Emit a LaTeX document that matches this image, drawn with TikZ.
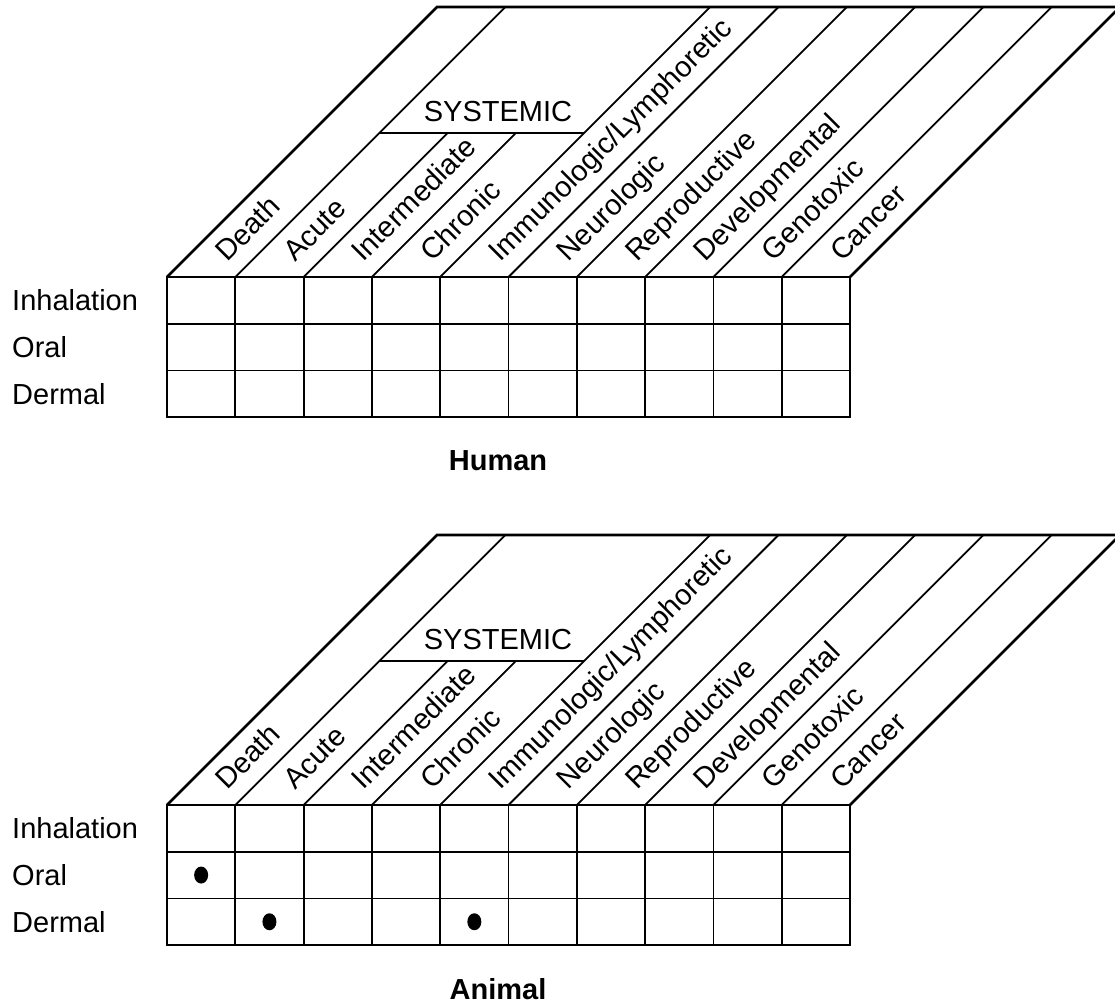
\documentclass[tikz,border=0pt]{standalone}
\usepackage{fontspec}
\setmainfont{Liberation Sans}
\usepackage{tikz}
\usetikzlibrary{shapes.geometric}

\begin{document}
\begin{tikzpicture}[x=1pt, y=-1pt,
    inner rule/.style={line width=1.8pt},
    outer rule/.style={line width=2.6pt, line join=miter},
    txt/.style={font=\fontsize{29}{34}\selectfont, inner sep=0pt},
    hit/.style={ellipse, fill=black, minimum width=14pt, minimum height=17pt, inner sep=0pt}]
    \useasboundingbox (0,0) rectangle (1115,1008);
    \clip (0,0) rectangle (1115,1008);

    \foreach \T/\name [count=\p] in {277/Human, 805/Animal} {
      % slanted header: left edge, top, right edge
      \draw[outer rule] (167,\T) -- ++(270,-270) -- ++(683,0) -- (850,\T);
      % column dividers in the header (Acute..Chronic stop under SYSTEMIC)
      \foreach \i in {1,...,9} {
        \ifnum\i=2
          \def\rise{144}
        \else\ifnum\i=3
          \def\rise{144}
        \else
          \def\rise{270}
        \fi\fi
        \draw[inner rule] ({167+\i*68.3},\T) -- ++(\rise,-\rise);
      }
      % SYSTEMIC bracket
      \draw[inner rule] ({167+68.3+144},{\T-144}) -- ({167+4*68.3+144},{\T-144});
      \node[txt] (sys-\p) at (498,{\T-165}) {SYSTEMIC};
      % column labels
      \foreach \lab [count=\c from 0] in {Death, Acute, Intermediate, Chronic,
          Immunologic/Lymphoretic, Neurologic, Reproductive, Developmental,
          Genotoxic, Cancer} {
        \node[txt, rotate=45, anchor=base west] (col-\p-\c)
              at ({167+(\c+0.5)*68.3+26},{\T-14}) {\lab};
      }
      % table cells
      \foreach \i in {1,...,9}
        \draw[inner rule] ({167+\i*68.3},\T) -- ++(0,140);
      \foreach \j in {1,2}
        \draw[inner rule] (167,{\T+\j*46.7}) -- (850,{\T+\j*46.7});
      \draw[outer rule] (167,\T) rectangle (850,{\T+140});
      % row labels
      \foreach \r [count=\k] in {Inhalation, Oral, Dermal} {
        \node[txt, anchor=west] (route-\p-\k) at (12,{\T+(\k-0.5)*46.7}) {\r};
      }
      % panel title
      \node[txt, font=\fontsize{29}{34}\selectfont\bfseries] (panel-\p)
            at (498,{\T+140+44}) {\name};
    }

    % animal findings
    \foreach \c/\r [count=\n] in {0/2, 1/3, 4/3} {
      \node[hit] (dot-\n) at ({167+(\c+0.5)*68.3},{805+(\r-0.5)*46.7}) {};
    }
\end{tikzpicture}
\end{document}
